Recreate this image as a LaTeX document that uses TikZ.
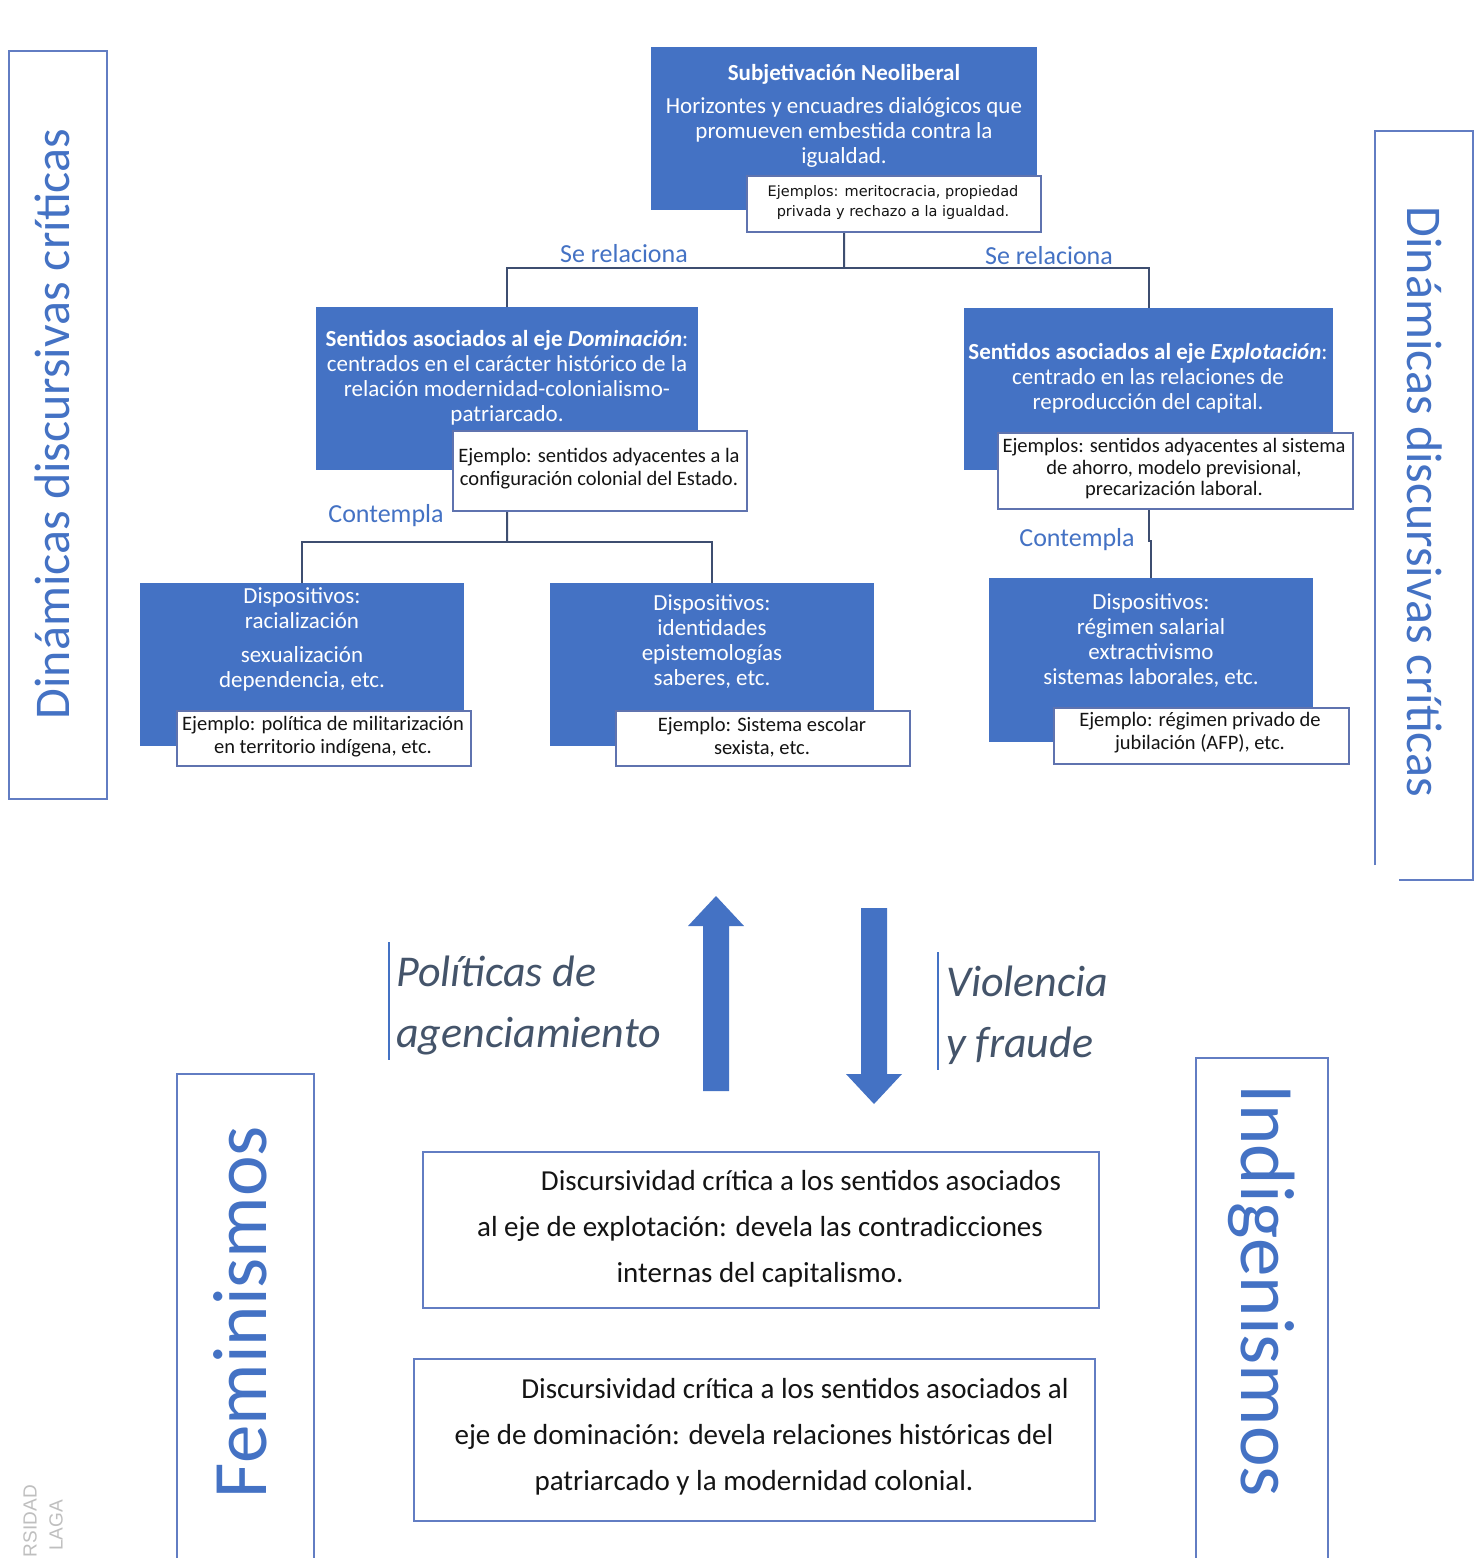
\documentclass[tikz,border=0pt]{standalone}
\usepackage{fontspec}
\setmainfont{Carlito}
\newfontfamily\dejavu{DejaVu Sans}
\newfontfamily\libsans{Liberation Sans}
\definecolor{boxblue}{HTML}{4472C4}
\definecolor{exborder}{RGB}{95,115,175}
\definecolor{framecol}{RGB}{98,125,195}
\definecolor{conncol}{RGB}{62,78,112}
\definecolor{slate}{HTML}{44546A}
\definecolor{bodytext}{RGB}{20,20,20}
\begin{document}
\begin{tikzpicture}[x=1pt,y=-1pt,
  bluebox/.style={fill=boxblue, draw=none, inner sep=0pt, anchor=north west},
  exbox/.style={fill=white, draw=exborder, line width=1.5pt, inner sep=0pt, anchor=north west},
  textframe/.style={draw=framecol, line width=1.8pt, inner sep=0pt, anchor=north west},
  conn/.style={draw=conncol, line width=2pt},
  intext/.style={text=white, align=center, font=\fontsize{23}{25}\selectfont, inner sep=0pt},
  extext/.style={text=bodytext, align=center, font=\fontsize{20.5}{23}\selectfont, inner sep=0pt},
  smallex/.style={text=bodytext, align=center, font=\dejavu\fontsize{14.5}{20}\selectfont, inner sep=0pt},
  rellabel/.style={text=boxblue, font=\fontsize{26}{30}\selectfont, inner sep=0pt},
  sidetitle/.style={text=boxblue, font=\fontsize{50}{60}\selectfont, inner sep=0pt},
  bigtitle/.style={text=boxblue, font=\fontsize{77}{90}\selectfont, inner sep=0pt},
  flowlabel/.style={text=slate, font=\itshape\fontsize{44}{61}\selectfont, align=left, inner sep=0pt, anchor=west},
  crittext/.style={text=bodytext, align=center, font=\fontsize{29}{46}\selectfont, inner sep=0pt},
  fatarrow/.style={fill=boxblue, draw=none},
  sidebar/.style={draw=boxblue, line width=1.6pt},
  watermark/.style={text=black!25, font=\libsans\fontsize{19}{22}\selectfont, inner sep=0pt, rotate=90, anchor=east}
]
\useasboundingbox (0,0) rectangle (1481,1558);
\fill[white] (0,0) rectangle (1481,1558);
\begin{scope}
\clip (0,0) rectangle (1481,1558);

% ---------- boxes of the hierarchy ----------
\node[bluebox, minimum width=386pt, minimum height=163pt] (top) at (651,47) {};
\node[bluebox, minimum width=382pt, minimum height=163pt] (dom) at (316,307) {};
\node[bluebox, minimum width=369pt, minimum height=162pt] (expl) at (964,308) {};
\node[bluebox, minimum width=324pt, minimum height=163pt] (bl) at (140,583) {};
\node[bluebox, minimum width=324pt, minimum height=163pt] (bm) at (550,583) {};
\node[bluebox, minimum width=324pt, minimum height=164pt] (br) at (989,578) {};

% ---------- connectors ----------
\coordinate (hubA) at (844,268);
\coordinate (hubB) at (507,542);
\coordinate (hubC) at (1149,541);
\draw[conn] (top.south) -- (hubA);
\draw[conn] (dom.north) |- (hubA) -| (expl.north);
\draw[conn] (dom.south) -- (hubB);
\draw[conn] (bl.north) |- (hubB) -| (bm.north);
\draw[conn] (expl.south) |- (hubC) -| (br.north);

% ---------- example boxes ----------
\node[exbox, minimum width=294pt, minimum height=56pt] (ex0) at (746,175) {};
\node[exbox, minimum width=294pt, minimum height=80pt] (ex1) at (452,430) {};
\node[exbox, minimum width=355pt, minimum height=76pt] (ex2) at (997,432) {};
\node[exbox, minimum width=294pt, minimum height=55pt] (ex3) at (176,710) {};
\node[exbox, minimum width=294pt, minimum height=55pt] (ex4) at (615,710) {};
\node[exbox, minimum width=295pt, minimum height=56pt] (ex5) at (1053,707) {};

% ---------- texts of the blue boxes ----------
\node[intext] (topT) at (844,116) {\textbf{Subjetivación Neoliberal}\\[8pt]Horizontes y encuadres dialógicos que\\promueven embestida contra la\\igualdad.};
\node[intext] (domT) at (507,378) {\textbf{Sentidos asociados al eje \textit{Dominación}}:\\centrados en el carácter histórico de la\\relación modernidad-colonialismo-\\patriarcado.};
\node[intext] (explT) at (1148,378) {\textbf{Sentidos asociados al eje \textit{Explotación}}:\\centrado en las relaciones de\\reproducción del capital.};
\node[intext] (blT) at (302,639) {Dispositivos:\\racialización\\[9pt]sexualización\\dependencia, etc.};
\node[intext] (bmT) at (712,642) {Dispositivos:\\identidades\\epistemologías\\saberes, etc.};
\node[intext] (brT) at (1151,641) {Dispositivos:\\régimen salarial\\extractivismo\\sistemas laborales, etc.};

% ---------- texts of the example boxes ----------
\node[smallex] (ex0T) at (893,202) {Ejemplos: meritocracia, propiedad\\privada y rechazo a la igualdad.};
\node[extext] (ex1T) at (599,469) {Ejemplo: sentidos adyacentes a la\\configuración colonial del Estado.};
\node[extext, font=\fontsize{20.5}{21.5}\selectfont] (ex2T) at (1174,469) {Ejemplos: sentidos adyacentes al sistema\\de ahorro, modelo previsional,\\precarización laboral.};
\node[extext] (ex3T) at (323,737) {Ejemplo: política de militarización\\en territorio indígena, etc.};
\node[extext] (ex4T) at (762,737) {Ejemplo: Sistema escolar\\sexista, etc.};
\node[extext] (ex5T) at (1200,733) {Ejemplo: régimen privado de\\jubilación (AFP), etc.};

% ---------- connector labels ----------
\node[rellabel] (relL) at (624,254) {Se relaciona};
\node[rellabel] (relR) at (1049,256) {Se relaciona};
\node[rellabel] (conL) at (386,516) {Contempla};
\node[rellabel] (conR) at (1077,540) {Contempla};

% ---------- side frames ----------
\node[textframe, minimum width=98pt, minimum height=748pt] (lside) at (8,50) {};
\node[sidetitle, rotate=90] (lsideT) at (52,424) {Dinámicas discursivas críticas};
\draw[draw=framecol, line width=1.8pt] (1375,865) -- (1375,131) -- (1473,131) -- (1473,880) -- (1399,880);
\node[sidetitle, rotate=-90] (rsideT) at (1425,502) {Dinámicas discursivas críticas};

% ---------- fat arrows ----------
\fill[fatarrow] (703,1091) -- (703,926) -- (688,926) -- (716,896) -- (744,926) -- (729,926) -- (729,1091) -- cycle;
\fill[fatarrow] (861,908) -- (861,1074) -- (846,1074) -- (874,1104) -- (902,1074) -- (887,1074) -- (887,908) -- cycle;

% ---------- flow labels ----------
\draw[sidebar] (389,942) -- (389,1060);
\node[flowlabel] (polT) at (396,1005) {Políticas de\\agenciamiento};
\draw[sidebar] (938,952) -- (938,1070);
\node[flowlabel] (vioT) at (946,1015) {Violencia\\y fraude};

% ---------- critical discourse boxes ----------
\node[textframe, minimum width=676pt, minimum height=156pt] (crit1) at (422,1151) {};
\node[crittext] (crit1T) at (760,1229) {\hspace*{82pt}Discursividad crítica a los sentidos asociados\\al eje de explotación: devela las contradicciones\\internas del capitalismo.};
\node[textframe, minimum width=681pt, minimum height=162pt] (crit2) at (413,1358) {};
\node[crittext] (crit2T) at (754,1437) {\hspace*{82pt}Discursividad crítica a los sentidos asociados al\\eje de dominación: devela relaciones históricas del\\patriarcado y la modernidad colonial.};

% ---------- lower side frames ----------
\draw[draw=framecol, line width=1.8pt] (177,1570) -- (177,1074) -- (314,1074) -- (314,1570);
\node[bigtitle, rotate=90] (femT) at (240,1312) {Feminismos};
\draw[draw=framecol, line width=1.8pt] (1196,1570) -- (1196,1058) -- (1328,1058) -- (1328,1570);
\node[bigtitle, rotate=-90] (indT) at (1262,1291) {Indigenismos};

% ---------- edge mark ----------
\node[watermark] (wm1) at (30,1485) {RSIDAD};
\node[watermark] (wm2) at (56,1500) {LAGA};
\end{scope}
\end{tikzpicture}
\end{document}
